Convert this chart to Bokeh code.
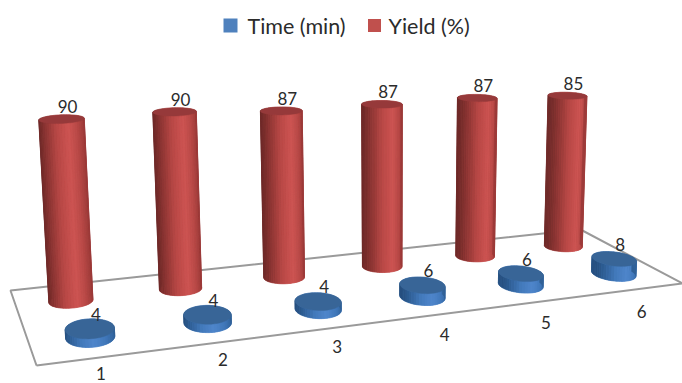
import numpy as np
from bokeh.core.properties import value
from bokeh.embed import file_html
from bokeh.plotting import figure
from bokeh.resources import INLINE

categories = ["1", "2", "3", "4", "5", "6"]
time_min = [4, 4, 4, 6, 6, 8]
yield_pct = [90, 90, 87, 87, 87, 85]

FONT = value("Lato")
TEXT = "#2b2b2b"

# Floor corners on screen, in unit floor coordinates (u along categories, v in depth).
FLOOR = [((0, 0), (36, 365)), ((1, 0), (682, 283)), ((1, 1), (580, 229)), ((0, 1), (10, 290))]
VANISH = np.array([390.0, 6500.0, 1.0])
HEIGHT_GAIN = -0.000362


def solve_homography(pairs):
    rows, rhs = [], []
    for (u, v), (x, y) in pairs:
        rows.append([u, v, 1, 0, 0, 0, -u * x, -v * x])
        rows.append([0, 0, 0, u, v, 1, -u * y, -v * y])
        rhs += [x, y]
    a = np.linalg.solve(np.array(rows, float), np.array(rhs, float))
    return np.append(a, 1.0).reshape(3, 3)


H = solve_homography(FLOOR)


def project(u, v, h=0.0):
    u, v = np.asarray(u, float), np.asarray(v, float)
    vec = H @ np.stack([u, v, np.ones_like(u)]) + np.outer(VANISH, np.ones_like(u)) * h * HEIGHT_GAIN
    return vec[0] / vec[2], vec[1] / vec[2]


def mix(c0, c1, t):
    a = np.array([int(c0[i:i + 2], 16) for i in (1, 3, 5)])
    b = np.array([int(c1[i:i + 2], 16) for i in (1, 3, 5)])
    return "#%02x%02x%02x" % tuple(int(round(x)) for x in a + (b - a) * t)


def shade(stops, t):
    for (t0, c0), (t1, c1) in zip(stops, stops[1:]):
        if t <= t1:
            return mix(c0, c1, (t - t0) / (t1 - t0))
    return stops[-1][1]


RED_SIDE = [(0, "#9c3b39"), (0.18, "#bb4a48"), (0.36, "#cd5553"), (0.62, "#b84846"), (0.85, "#8f3634"), (1, "#6f2a29")]
BLUE_SIDE = [(0, "#2f6096"), (0.2, "#3f76b8"), (0.45, "#4f86cb"), (0.7, "#437abb"), (0.9, "#2f5f96"), (1, "#264f7f")]

xs_all, ys_all, colors = [], [], []


def add_poly(x, y, color):
    xs_all.append(list(x))
    ys_all.append(list(y))
    colors.append(color)


def cylinder(uc, vc, height, stops, top_color, ru, rv):
    n = 26
    thetas = np.linspace(0, 2 * np.pi, n * 2 + 1)
    cu, cv = uc + ru * np.cos(thetas), vc + rv * np.sin(thetas)
    # Solid base disc under the side strips, so their seams never show the page.
    x0, y0 = project(cu, cv, 0.0)
    add_poly(x0, y0, shade(stops, 0.45))
    # Back half first, so the front half covers it at the silhouette.
    for k in range(2 * n):
        th = np.array([thetas[k], thetas[k + 1]])
        su, sv = uc + ru * np.cos(th), vc + rv * np.sin(th)
        sx0, sy0 = project(su, sv, 0.0)
        sx1, sy1 = project(su, sv, height)
        t = 0.5 - 0.5 * np.cos(th.mean() + 0.12)
        add_poly([sx0[0], sx0[1], sx1[1], sx1[0]], [sy0[0], sy0[1], sy1[1], sy1[0]], shade(stops, t))
    x1, y1 = project(cu, cv, height)
    add_poly(x1, y1, top_color)


p = figure(width=682, height=383, x_range=(0, 682), y_range=(383, 0),
           output_backend="svg", toolbar_location=None, min_border=0,
           outline_line_color=None, background_fill_color="white", border_fill_color="white")
p.axis.visible = False
p.grid.visible = False

# Floor outline
fx, fy = project([0, 1, 1, 0, 0], [0, 0, 1, 1, 0])
p.line(fx, fy, line_color="#9a9a9a", line_width=2)

# Cylinders, back row first
n_cat = len(categories)
V_YIELD, V_TIME = 0.75, 0.25
u_time = (0.5 + np.arange(n_cat) * 1.008) / n_cat
u_yield = u_time - 0.003
for uc, val in zip(u_yield, yield_pct):
    cylinder(uc, V_YIELD, val, RED_SIDE, "#96393a", ru=0.0325, rv=0.10)
for uc, val in zip(u_time, time_min):
    cylinder(uc, V_TIME, val, BLUE_SIDE, "#386597", ru=0.0335, rv=0.125)

p.patches(xs_all, ys_all, fill_color=colors, line_color=colors, line_width=0.4, line_join="round")

# Value labels above each cylinder top
rx, ry = project(u_yield, np.full(n_cat, V_YIELD), np.array(yield_pct, float))
p.text(rx + 6, ry - 6, text=[str(v) for v in yield_pct], text_font=FONT, text_font_size="17px",
       text_color=TEXT, text_align="center", text_baseline="bottom")
bx, by = project(u_time, np.full(n_cat, V_TIME), np.array(time_min, float))
p.text(bx + 6, by - 8, text=[str(v) for v in time_min], text_font=FONT, text_font_size="17px",
       text_color=TEXT, text_align="center", text_baseline="bottom")

# Category labels beyond the front edge, the gap widening towards the right
cx, cy = project(u_time, np.zeros(n_cat))
p.text(cx + 1, cy + 15 + 0.012 * cx, text=categories, text_font=FONT, text_font_size="17px",
       text_color=TEXT, text_align="center", text_baseline="middle")

# Legend
p.rect([230], [25], width=14, height=14, fill_color="#4f81bd", line_color=None)
p.text([247], [25], text=["Time (min)"], text_font=FONT, text_font_size="21.5px",
       text_color=TEXT, text_align="left", text_baseline="middle")
p.rect([374], [25], width=13, height=13, fill_color="#c0504d", line_color=None)
p.text([388], [25], text=["Yield (%)"], text_font=FONT, text_font_size="21.5px",
       text_color=TEXT, text_align="left", text_baseline="middle")

open("out.html", "w").write(file_html(p, INLINE))
